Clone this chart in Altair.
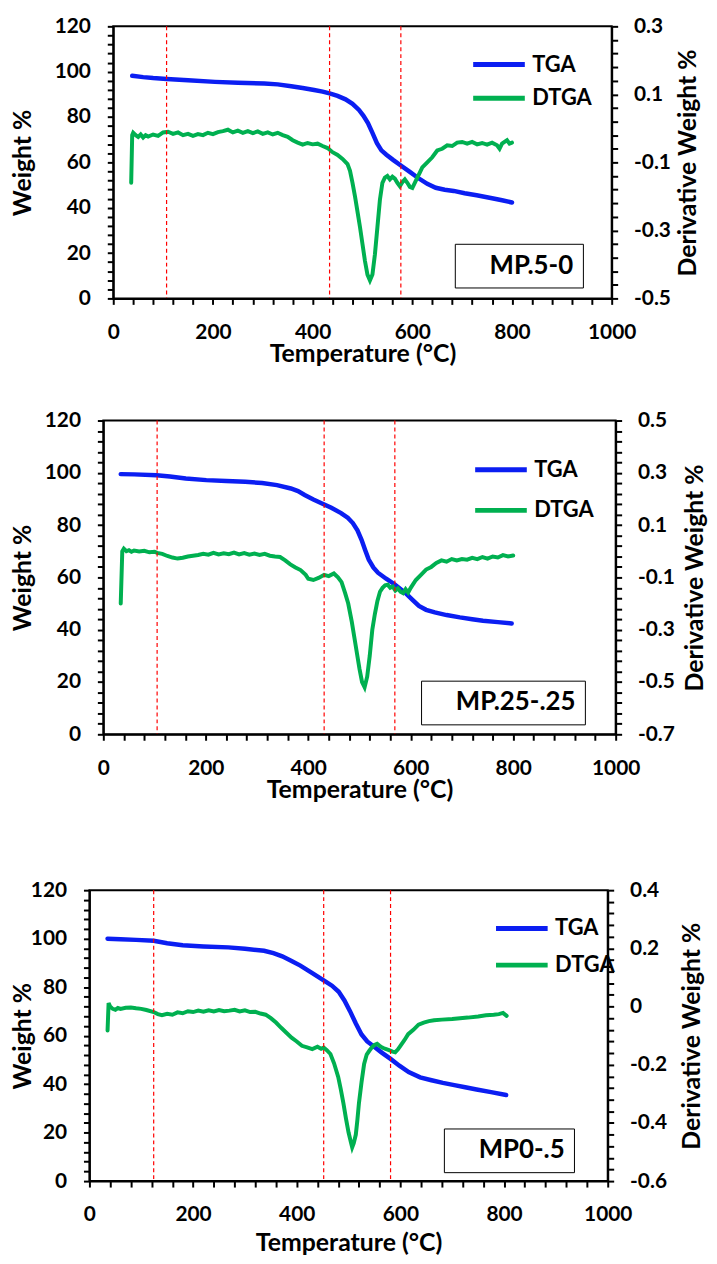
import altair as alt
import pandas as pd

FONT = "Lato"
BLUE = "#0b1ef2"
GREEN = "#00b050"
RED = "#ff0000"

series_names = ["TGA", "DTGA"]

# ---------------- Panel 1 : MP.5-0 ----------------
p1_name = "MP.5-0"
p1_tga_T = [38, 60, 80, 107, 150, 204, 250, 303, 330, 357, 380, 403, 420, 434, 450, 466, 480,
            493, 502, 511, 520, 529, 538, 548, 562, 577, 595, 611, 630, 647, 665, 683, 705,
            729, 760, 780, 800]
p1_tga_W = [98.2, 97.6, 97.2, 96.8, 96.2, 95.5, 95.1, 94.8, 94.4, 93.6, 92.8, 91.9, 91.2, 90.4,
            89.3, 87.8, 85.8, 83.1, 80.5, 77.3, 73.0, 68.5, 65.3, 63.4, 61.0, 58.6, 55.8, 53.2,
            50.5, 48.8, 47.9, 47.4, 46.4, 45.5, 44.2, 43.3, 42.3]
p1_dtga_T = [36, 38, 40, 45, 50, 55, 60, 65, 70, 80, 90, 100, 110, 120, 130, 140, 150, 160, 170,
             180, 190, 200, 210, 220, 230, 240, 250, 260, 270, 280, 290, 300, 310, 320, 330, 340,
             350, 360, 370, 380, 390, 400, 410, 420, 430, 440, 450, 460, 470, 475, 480, 485, 490,
             495, 500, 505, 510, 515, 520, 525, 530, 535, 540, 545, 550, 555, 560, 565, 570, 575,
             580, 585, 590, 595, 600, 605, 610, 615, 620, 630, 640, 650, 660, 670, 680, 690, 700,
             710, 720, 730, 740, 750, 760, 770, 775, 780, 785, 790, 795, 800]
p1_dtga_D = [-0.16, -0.02, -0.013, -0.02, -0.025, -0.018, -0.027, -0.02, -0.024, -0.018, -0.022,
             -0.012, -0.01, -0.016, -0.012, -0.02, -0.016, -0.022, -0.017, -0.02, -0.013, -0.017,
             -0.011, -0.008, -0.004, -0.012, -0.007, -0.013, -0.008, -0.014, -0.009, -0.016,
             -0.012, -0.018, -0.013, -0.02, -0.025, -0.035, -0.042, -0.048, -0.043, -0.047,
             -0.045, -0.052, -0.058, -0.07, -0.078, -0.09, -0.105, -0.125, -0.16, -0.2, -0.245,
             -0.29, -0.34, -0.39, -0.43, -0.447, -0.43, -0.37, -0.29, -0.21, -0.16, -0.145, -0.14,
             -0.15, -0.142, -0.148, -0.16, -0.17, -0.158, -0.15, -0.16, -0.172, -0.175, -0.16,
             -0.145, -0.13, -0.115, -0.1, -0.085, -0.065, -0.06, -0.05, -0.052, -0.042, -0.04,
             -0.045, -0.04, -0.047, -0.043, -0.048, -0.042, -0.05, -0.06, -0.045, -0.04, -0.035,
             -0.045, -0.042]
p1_marks = [107, 434, 577]
p1_right = [-0.5, 0.3]
p1_right_major = [0.3, 0.1, -0.1, -0.3, -0.5]

# ---------------- Panel 2 : MP.25-.25 ----------------
p2_name = "MP.25-.25"
p2_tga_T = [34, 60, 104, 130, 161, 201, 240, 277, 310, 339, 366, 380, 393, 410, 429, 445, 464,
            477, 487, 496, 504, 511, 518, 527, 536, 552, 569, 589, 603, 616, 630, 647, 670, 696,
            720, 741, 770, 797]
p2_tga_W = [99.5, 99.4, 99.1, 98.6, 97.8, 97.2, 96.9, 96.6, 96.1, 95.3, 94.0, 93.0, 91.5, 89.8,
            88.1, 86.6, 84.6, 82.8, 80.8, 78.0, 74.4, 70.5, 66.8, 63.8, 61.8, 59.5, 57.3, 54.2,
            51.5, 49.1, 47.6, 46.6, 45.6, 44.7, 44.0, 43.4, 42.9, 42.4]
p2_dtga_T = [34, 37, 40, 45, 50, 55, 60, 70, 80, 90, 100, 105, 115, 125, 135, 145, 155, 165, 175,
             185, 195, 205, 215, 225, 235, 245, 255, 265, 275, 285, 295, 305, 315, 325, 335, 345,
             355, 365, 375, 385, 395, 400, 410, 420, 431, 440, 450, 458, 465, 472, 478, 485, 490,
             495, 500, 505, 510, 515, 520, 525, 530, 535, 540, 545, 550, 555, 560, 565, 570, 575,
             580, 585, 590, 595, 600, 605, 610, 620, 630, 640, 650, 660, 670, 680, 690, 700, 710,
             720, 730, 740, 750, 760, 770, 780, 790, 800]
p2_dtga_D = [-0.2, 0.0, 0.01, 0.0, 0.004, -0.002, 0.003, -0.001, 0.002, -0.004, -0.002, -0.006,
             -0.01, -0.018, -0.024, -0.028, -0.025, -0.02, -0.017, -0.014, -0.01, -0.013, -0.006,
             -0.012, -0.008, -0.011, -0.005, -0.012, -0.007, -0.013, -0.009, -0.014, -0.01,
             -0.017, -0.02, -0.022, -0.035, -0.05, -0.062, -0.072, -0.09, -0.105, -0.11, -0.102,
             -0.09, -0.095, -0.085, -0.1, -0.118, -0.16, -0.2, -0.27, -0.33, -0.39, -0.45, -0.5,
             -0.52, -0.48, -0.4, -0.3, -0.24, -0.19, -0.155, -0.14, -0.13, -0.128, -0.14, -0.135,
             -0.15, -0.142, -0.155, -0.16, -0.145, -0.158, -0.14, -0.125, -0.11, -0.09, -0.07,
             -0.06, -0.045, -0.035, -0.04, -0.03, -0.035, -0.03, -0.032, -0.025, -0.03, -0.022,
             -0.028, -0.02, -0.024, -0.015, -0.02, -0.016]
p2_marks = [105, 431, 569]
p2_right = [-0.7, 0.5]
p2_right_major = [0.5, 0.3, 0.1, -0.1, -0.3, -0.5, -0.7]

# ---------------- Panel 3 : MP0-.5 ----------------
p3_name = "MP0-.5"
p3_tga_T = [35, 60, 90, 124, 150, 180, 220, 268, 300, 337, 355, 372, 390, 407, 430, 452, 468,
            481, 492, 503, 514, 525, 536, 547, 564, 581, 598, 616, 638, 660, 682, 704, 725, 747,
            775, 804]
p3_tga_W = [100.0, 99.8, 99.5, 99.1, 98.1, 97.3, 96.8, 96.4, 95.8, 95.0, 94.0, 92.7, 90.8, 88.9,
            85.8, 82.8, 80.6, 78.1, 74.5, 70.0, 65.0, 60.5, 57.6, 55.8, 53.0, 50.4, 47.6, 45.0,
            42.8, 41.6, 40.5, 39.6, 38.7, 37.8, 36.7, 35.5]
p3_dtga_T = [35, 37, 40, 45, 50, 55, 60, 70, 80, 90, 100, 110, 124, 132, 140, 150, 160, 170, 180,
             190, 200, 210, 220, 230, 240, 250, 260, 270, 280, 290, 300, 310, 320, 330, 340, 350,
             360, 370, 380, 390, 400, 410, 420, 430, 440, 447, 452, 458, 465, 472, 480, 485, 490,
             495, 500, 505, 507, 510, 514, 517, 520, 525, 530, 535, 540, 545, 550, 555, 560, 565,
             570, 578, 585, 590, 595, 600, 608, 615, 625, 635, 645, 655, 665, 680, 700, 715, 730,
             750, 765, 780, 790, 798, 805]
p3_dtga_D = [-0.082, 0.012, 0.0, -0.008, -0.011, -0.005, -0.008, -0.004, -0.003, -0.006, -0.008,
             -0.012, -0.019, -0.026, -0.03, -0.025, -0.028, -0.02, -0.023, -0.016, -0.019, -0.014,
             -0.018, -0.013, -0.017, -0.012, -0.016, -0.014, -0.011, -0.017, -0.013, -0.019,
             -0.018, -0.024, -0.028, -0.04, -0.055, -0.073, -0.09, -0.107, -0.12, -0.135, -0.14,
             -0.146, -0.138, -0.145, -0.141, -0.15, -0.163, -0.195, -0.242, -0.285, -0.332,
             -0.385, -0.433, -0.47, -0.484, -0.47, -0.44, -0.39, -0.332, -0.26, -0.197, -0.165,
             -0.152, -0.14, -0.132, -0.128, -0.135, -0.141, -0.145, -0.15, -0.155, -0.157, -0.148,
             -0.135, -0.115, -0.095, -0.08, -0.062, -0.055, -0.05, -0.047, -0.045, -0.043, -0.04,
             -0.038, -0.034, -0.03, -0.028, -0.026, -0.022, -0.032]
p3_marks = [124, 452, 581]
p3_right = [-0.6, 0.4]
p3_right_major = [0.4, 0.2, 0.0, -0.2, -0.4, -0.6]

# axis tick positions
x_ticks = list(range(0, 1001, 40))
w_ticks = list(range(0, 121, 4))


def right_ticks(lo, hi):
    n = int(round((hi - lo) / 0.04))
    return [round(lo + k * 0.04, 2) for k in range(n + 1)]


AX = dict(tickSize=6, tickWidth=2, tickColor="black", zindex=1, grid=False,
          labelOverlap=False, labelFlush=False)


def panel(name, tT, tW, dT, dD, marks, rdom, rmajor, width, height, lay):
    xs = alt.Scale(domain=[0, 1000], nice=False, zero=False)
    x_axis = alt.Axis(
        orient="bottom", title="Temperature (°C)", values=x_ticks, format="d",
        labelExpr="datum.value % 200 === 0 ? datum.label : ''",
        labelPadding=17, titlePadding=lay["xtp"], **AX)
    left_axis = alt.Axis(
        orient="left", title="Weight %", values=w_ticks, format="d",
        labelExpr="datum.value % 20 === 0 ? datum.label : ''",
        labelPadding=17, titlePadding=lay["ltp"], **AX)
    maj = str([int(round(v * 100)) for v in rmajor])
    test = f"indexof({maj}, round(datum.value*100)) >= 0"
    right_axis = alt.Axis(
        orient="right", title="Derivative Weight %", values=right_ticks(*rdom),
        labelExpr=f"{test} ? (abs(datum.value) < 0.001 ? '0' : (datum.value < 0 ? '-' : '') + format(abs(datum.value), '.1f')) : ''",
        labelPadding=16, titlePadding=lay["rtp"], titleAngle=270, titleBaseline="top", **AX)

    color = alt.Color(
        "series:N",
        scale=alt.Scale(domain=series_names, range=[BLUE, GREEN]),
        legend=alt.Legend(
            title=None, orient="none", legendX=lay["lx"], legendY=lay["ly"],
            symbolType="M-2,0H2", symbolSize=676, symbolStrokeWidth=5,
            labelFont=FONT, labelFontSize=22, labelFontWeight="bold", labelColor="black",
            labelOffset=18, rowPadding=lay["rp"], padding=0))

    df_t = pd.DataFrame({"T": tT, "W": tW, "series": "TGA"})
    df_d = pd.DataFrame({"T": dT, "D": dD, "series": "DTGA"})
    df_m = pd.DataFrame({"T": marks, "name": name})

    tga = alt.Chart(df_t).mark_line(strokeWidth=4.5, strokeCap="round").encode(
        x=alt.X("T:Q", scale=xs, axis=x_axis),
        y=alt.Y("W:Q", scale=alt.Scale(domain=[0, 120], nice=False, zero=False), axis=left_axis),
        color=color)
    dtga = alt.Chart(df_d).mark_line(strokeWidth=4, strokeCap="round").encode(
        x=alt.X("T:Q", scale=xs, axis=x_axis),
        y=alt.Y("D:Q", scale=alt.Scale(domain=rdom, nice=False, zero=False), axis=right_axis),
        color=color)
    rules = alt.Chart(df_m).mark_rule(color=RED, strokeWidth=1.2).encode(
        x=alt.X("T:Q", scale=xs, axis=x_axis),
        strokeDash=alt.StrokeDash(
            "name:N", scale=alt.Scale(domain=[name], range=[[4, 3]]),
            legend=alt.Legend(
                title=None, orient="none", legendX=lay["bx"], legendY=lay["by"],
                symbolOpacity=0, symbolSize=0, symbolStrokeWidth=0, labelOffset=0,
                labelFont=FONT, labelFontSize=26, labelFontWeight="bold", labelColor="black",
                labelLimit=500, strokeColor="black", fillColor="white", padding=9)))
    layer = alt.layer(tga, dtga, rules).resolve_scale(y="independent").properties(
        width=width, height=height)
    # an invisible 1px spacer in front lets each panel keep its own left offset
    spacer = alt.Chart(pd.DataFrame({"s": [0]})).mark_point(opacity=0).encode(
        x=alt.X("s:Q", axis=None), y=alt.Y("s:Q", axis=None)
    ).properties(width=1, height=1, view=alt.ViewBackground(stroke="transparent"))
    return alt.hconcat(spacer, layer, spacing=0).resolve_scale(
        color="independent", strokeDash="independent")


p1 = panel(p1_name, p1_tga_T, p1_tga_W, p1_dtga_T, p1_dtga_D, p1_marks, p1_right, p1_right_major,
           502, 274, dict(xtp=0, ltp=19, rtp=5, lx=373, ly=23, rp=7, bx=344, by=219))
p2 = panel(p2_name, p2_tga_T, p2_tga_W, p2_dtga_T, p2_dtga_D, p2_marks, p2_right, p2_right_major,
           516, 316, dict(xtp=0, ltp=9, rtp=8, lx=385, ly=34, rp=14, bx=320, by=262))
p3 = panel(p3_name, p3_tga_T, p3_tga_W, p3_dtga_T, p3_dtga_D, p3_marks, p3_right, p3_right_major,
           522, 293, dict(xtp=6, ltp=-5, rtp=13, lx=420, ly=23, rp=10, bx=357, by=240))

top = alt.vconcat(p1, p2, spacing=41).resolve_scale(
    color="independent", strokeDash="independent")
chart = alt.vconcat(top, p3, spacing=75).resolve_scale(
    color="independent", strokeDash="independent"
).properties(
    padding={"left": -8, "top": 2, "right": 0, "bottom": 0}, background="white"
).configure_view(
    stroke="black", strokeWidth=2
).configure_axis(
    domainColor="black", domainWidth=2, tickColor="black", tickWidth=2,
    labelFont=FONT, labelFontWeight="bold", labelColor="black", labelFontSize=21,
    titleFont=FONT, titleFontWeight="bold", titleColor="black", titleFontSize=25
)

chart.save("out.html", embed_options={"renderer": "svg", "actions": False})
